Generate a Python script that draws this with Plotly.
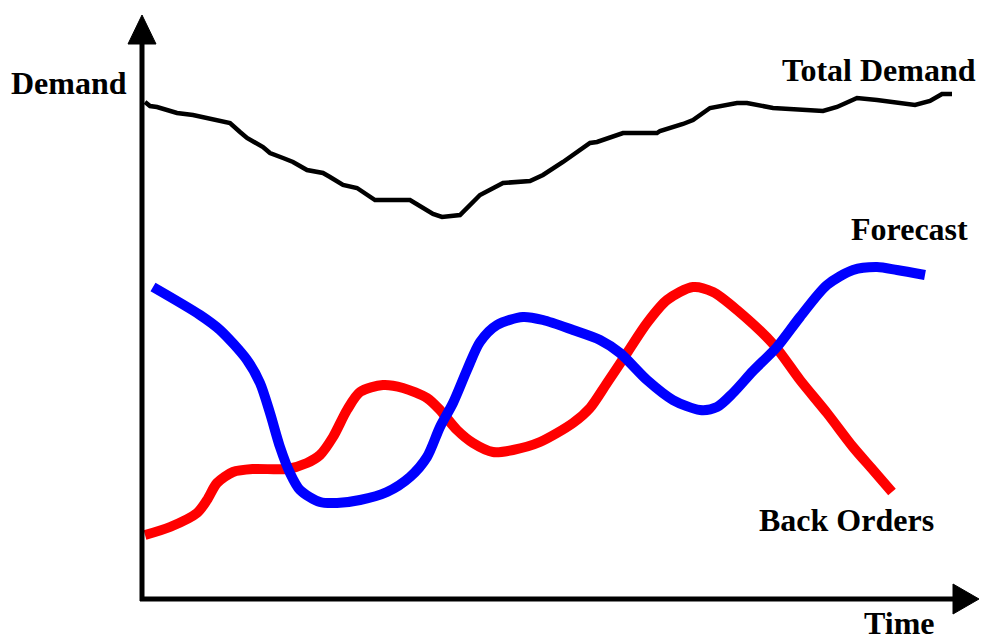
import plotly.graph_objects as go

# Origin of the drawing (axis corner) is time=0, demand=0; units arbitrary.
total_time = [3, 8, 15, 35, 51, 88, 98, 105, 121, 128, 141, 151, 165, 181, 188, 201, 215, 233, 268, 291, 300, 318, 338,
              361, 388, 401, 421, 448, 455, 468, 481, 515, 518, 541, 551, 568, 595, 605, 631, 681, 695, 715, 735, 773, 788, 800, 810]
total_dem = [497, 493, 492, 486, 484, 476, 467, 461, 452, 446, 441, 437, 429, 426, 422, 414, 411, 399, 399, 385, 382, 384,
             404, 416, 418, 424, 437, 456, 457, 462, 466, 466, 468, 475, 479, 491, 496, 496, 491, 488, 492, 501, 499, 494, 498, 505, 505]

fc_time = [11, 58, 78, 105, 118, 128, 138, 148, 158, 178, 195, 218, 245, 268, 285, 298, 311, 325, 338, 355, 381, 401,
           431, 458, 478, 505, 531, 558, 575, 591, 611, 635, 658, 685, 711, 735, 755, 783]
fc_dem = [312, 284, 269, 239, 216, 186, 152, 126, 109, 97, 96, 99, 107, 122, 142, 172, 196, 229, 257, 274, 282, 279,
          269, 259, 246, 219, 199, 189, 192, 206, 228, 252, 282, 314, 329, 332, 329, 324]

bo_time = [3, 28, 55, 65, 75, 91, 111, 145, 165, 178, 191, 205, 218, 241, 261, 285, 298, 315, 331, 351, 371, 398, 431,
           448, 465, 485, 505, 525, 551, 571, 595, 632, 658, 685, 711, 731, 750]
bo_dem = [64, 72, 86, 99, 116, 127, 130, 130, 136, 144, 162, 189, 207, 214, 211, 201, 189, 169, 156, 147, 149, 157, 176,
          191, 216, 246, 276, 299, 312, 307, 289, 254, 219, 186, 152, 129, 107]

X0, X1 = -142, 839
Y0, Y1 = -43, 599

fig = go.Figure()
fig.add_trace(go.Scatter(x=total_time, y=total_dem, mode="lines",
                         line=dict(color="black", width=4.5), hoverinfo="skip"))
fig.add_trace(go.Scatter(x=bo_time, y=bo_dem, mode="lines",
                         line=dict(color="#ff0000", width=10, shape="spline", smoothing=0.8), hoverinfo="skip"))
fig.add_trace(go.Scatter(x=fc_time, y=fc_dem, mode="lines",
                         line=dict(color="#0000ff", width=10, shape="spline", smoothing=0.8), hoverinfo="skip"))

# axes with arrowheads
fig.add_shape(type="line", x0=0, y0=-2, x1=0, y1=555, line=dict(color="black", width=5))
fig.add_shape(type="line", x0=-2, y0=0, x1=813, y1=0, line=dict(color="black", width=5))
fig.add_shape(type="path", path="M -14,555 L 14,555 L 0,584 Z", fillcolor="black", line=dict(color="black", width=1))
fig.add_shape(type="path", path="M 811,-15 L 811,15 L 837,0 Z", fillcolor="black", line=dict(color="black", width=1))

font = dict(family="Liberation Serif, Times New Roman, serif", size=32, color="black")
labels = [
    ("<b>Demand</b>", -13, 516, "right"),
    ("<b>Total Demand</b>", 836, 529, "right"),
    ("<b>Forecast</b>", 828, 370, "right"),
    ("<b>Back Orders</b>", 794, 79, "right"),
    ("<b>Time</b>", 795, -24, "right"),
]
for text, x, y, xa in labels:
    fig.add_annotation(x=x, y=y, text=text, showarrow=False, xanchor=xa, yanchor="middle", font=font)

fig.update_layout(
    width=981, height=642, margin=dict(l=0, r=0, t=0, b=0),
    paper_bgcolor="white", plot_bgcolor="white", showlegend=False,
    xaxis=dict(range=[X0, X1], visible=False, fixedrange=True),
    yaxis=dict(range=[Y0, Y1], visible=False, fixedrange=True),
)
fig.write_html("out.html", config={"displayModeBar": False},
               post_script="document.body.style.margin='0';document.body.style.overflow='hidden';")
